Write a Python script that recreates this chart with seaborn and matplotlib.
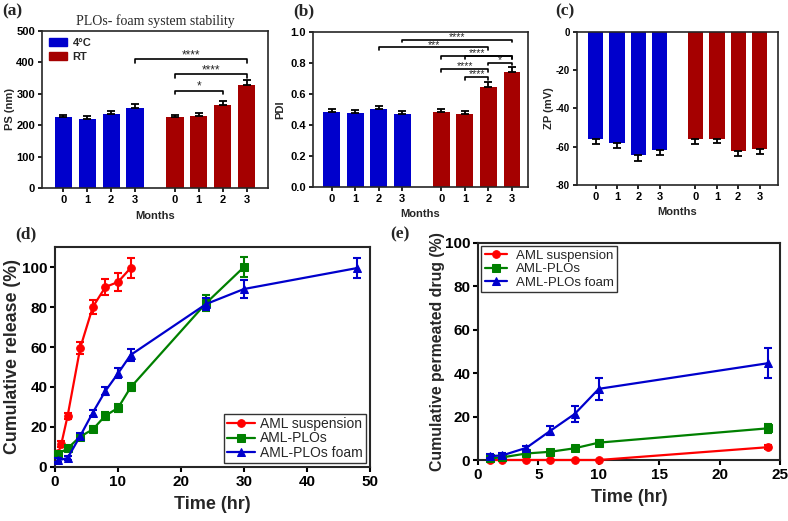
import numpy as np
import pandas as pd
import matplotlib
matplotlib.use('Agg')
import matplotlib.pyplot as plt
import seaborn as sns
from matplotlib.patches import Patch

# stability data (mean, sd) at 0-3 months
months = ['0', '1', '2', '3']
ps_4c = [225, 220, 235, 256]
ps_4c_err = [9, 8, 9, 10]
ps_rt = [225, 230, 264, 328]
ps_rt_err = [9, 9, 12, 15]
pdi_4c = [0.486, 0.475, 0.503, 0.471]
pdi_4c_err = [0.02, 0.02, 0.022, 0.02]
pdi_rt = [0.486, 0.473, 0.648, 0.745]
pdi_rt_err = [0.02, 0.02, 0.028, 0.032]
zp_4c = [-56.2, -58.0, -64.5, -61.7]
zp_4c_err = [2.3, 2.5, 2.8, 2.5]
zp_rt = [-56.2, -55.8, -62.4, -61.0]
zp_rt_err = [2.3, 2.3, 2.6, 2.6]

# significance brackets: (group_a, idx_a, group_b, idx_b, height, label)
ps_sig = [('4c', 3, 'rt', 3, 410, '****'),
          ('rt', 0, 'rt', 3, 363, '****'),
          ('rt', 0, 'rt', 2, 310, '*')]
pdi_sig = [('4c', 3, 'rt', 3, 0.95, '****'),
           ('4c', 2, 'rt', 2, 0.90, '***'),
           ('rt', 0, 'rt', 3, 0.845, '****'),
           ('rt', 1, 'rt', 3, 0.845, ''),
           ('rt', 2, 'rt', 3, 0.803, '*'),
           ('rt', 0, 'rt', 2, 0.76, '****'),
           ('rt', 1, 'rt', 2, 0.708, '****')]

# in vitro release (d)
rel_susp_t = [0.5, 1, 2, 4, 6, 8, 10, 12]
rel_susp = [7, 11.5, 25.5, 59.5, 80, 90, 92.5, 99.5]
rel_susp_err = [1, 1.5, 1.5, 3, 3.5, 4, 4.5, 5]
rel_plo_t = [0.5, 2, 4, 6, 8, 10, 12, 24, 30]
rel_plo = [6.5, 9.3, 15.2, 18.8, 25.7, 29.5, 39.8, 82, 100]
rel_plo_err = [1, 1, 1.5, 1.5, 2, 2, 2, 4, 5]
rel_foam_t = [0.5, 2, 4, 6, 8, 10, 12, 24, 30, 48]
rel_foam = [3.3, 4.5, 15.5, 27.2, 38, 46.8, 56, 81.5, 89, 99.5]
rel_foam_err = [1, 1, 1.5, 1.5, 2, 2.5, 3, 3, 4.5, 5]

# ex vivo permeation (e)
perm_t = [1, 2, 4, 6, 8, 10, 24]
perm_susp = [0, 0, 0, 0, 0, 0, 5.9]
perm_susp_err = [0.2, 0.2, 0.2, 0.2, 0.2, 0.2, 0.8]
perm_plo = [0.8, 1.2, 3.0, 3.8, 5.4, 8.0, 14.6]
perm_plo_err = [0.4, 0.4, 0.6, 0.8, 1.0, 1.2, 2.0]
perm_foam = [1.8, 2.1, 5.6, 13.5, 21.2, 32.8, 44.6]
perm_foam_err = [1, 1, 1, 2.2, 3.5, 5, 7]

series_labels = ['AML suspension', 'AML-PLOs', 'AML-PLOs foam']

BLUE = '#0000cc'
DRED = '#a50000'
sns.set_style('ticks')
plt.rcParams['font.family'] = ['Liberation Sans', 'DejaVu Sans']
plt.rcParams['axes.unicode_minus'] = False
plt.rcParams['axes.linewidth'] = 1.2
plt.rcParams['xtick.major.width'] = 1.2
plt.rcParams['ytick.major.width'] = 1.2
plt.rcParams['xtick.color'] = 'black'
plt.rcParams['ytick.color'] = 'black'

fig = plt.figure(figsize=(7.88, 5.21), dpi=100)
W, H = 788, 521


def add_ax(l, t, r, b):
    return fig.add_axes([l / W, 1 - b / H, (r - l) / W, (b - t) / H])


gap = 1.67
pos_4c = np.arange(4)
pos_rt = np.arange(4) + 3 + gap
pos = {'4c': pos_4c, 'rt': pos_rt}


def bar_panel(ax, v4, e4, vr, er, negative=False):
    df = pd.DataFrame({'pos': np.r_[pos_4c, pos_rt],
                       'val': list(v4) + list(vr),
                       'cond': ['4°C'] * 4 + ['RT'] * 4})
    sns.barplot(data=df, x='pos', y='val', hue='cond', native_scale=True,
                dodge=False, width=0.72, errorbar=None, linewidth=0,
                saturation=1, palette={'4°C': BLUE, 'RT': DRED},
                legend=False, ax=ax)
    for p, v, e in [(pos_4c, v4, e4), (pos_rt, vr, er)]:
        z = np.zeros(4)
        yerr = [np.array(e), z] if negative else [z, np.array(e)]
        ax.errorbar(p, v, yerr=yerr, fmt='none', ecolor='black',
                    elinewidth=1.3, capsize=3, capthick=1.3)
    ax.set_xticks(np.r_[pos_4c, pos_rt])
    ax.set_xticklabels(months * 2)
    ax.set_xlabel('Months', fontsize=8, fontweight='bold')
    ax.xaxis.set_label_coords(0.5, -0.145)
    ax.tick_params(labelsize=8, length=3, pad=2)
    for s in ax.spines.values():
        s.set_visible(True)


def bold_ticks(ax):
    for lab in ax.get_xticklabels() + ax.get_yticklabels():
        lab.set_fontweight('bold')


def brackets(ax, sig, tick, fs=8):
    for ga, ia, gb, ib, y, lab in sig:
        x1, x2 = pos[ga][ia], pos[gb][ib]
        ax.plot([x1, x1, x2, x2], [y - tick, y, y, y - tick], color='black', lw=1.2)
        if lab:
            ax.annotate(lab, xy=((x1 + x2) / 2, y), xytext=(0, -1.5),
                        textcoords='offset points', ha='center', va='bottom',
                        fontsize=fs)


# (a) particle size
ax = add_ax(42, 31, 268, 188)
bar_panel(ax, ps_4c, ps_4c_err, ps_rt, ps_rt_err)
brackets(ax, ps_sig, 12, fs=8.5)
ax.set_xlim(-0.9, pos_rt[-1] + 0.9)
ax.set_ylim(0, 500)
ax.set_yticks(range(0, 501, 100))
bold_ticks(ax)
ax.set_ylabel('PS (nm)', fontsize=8, fontweight='bold')
ax.yaxis.set_label_coords(-0.12, 0.5)
ax.set_title('PLOs- foam system stability', fontsize=10,
             family=['Liberation Serif', 'DejaVu Serif'], pad=4)
ax.legend(handles=[Patch(color=BLUE, label='4°C'), Patch(color=DRED, label='RT')],
          loc='upper left', frameon=False, prop={'weight': 'bold', 'size': 8},
          handlelength=1.6, handleheight=0.7, borderaxespad=0.25,
          labelspacing=0.3, handletextpad=0.5)

# (b) PDI
ax = add_ax(313, 32, 528, 187)
bar_panel(ax, pdi_4c, pdi_4c_err, pdi_rt, pdi_rt_err)
brackets(ax, pdi_sig, 0.017, fs=7.5)
ax.set_xlim(-0.79, pos_rt[-1] + 0.68)
ax.set_ylim(0, 1.0)
ax.set_yticks(np.linspace(0, 1, 6))
ax.set_yticklabels([f'{v:.1f}' for v in np.linspace(0, 1, 6)])
bold_ticks(ax)
ax.set_ylabel('PDI', fontsize=8, fontweight='bold')
ax.yaxis.set_label_coords(-0.13, 0.5)

# (c) zeta potential
ax = add_ax(577, 32, 778, 185)
bar_panel(ax, zp_4c, zp_4c_err, zp_rt, zp_rt_err, negative=True)
ax.set_xlim(-0.87, pos_rt[-1] + 0.86)
ax.set_ylim(-80, 0)
ax.set_yticks(range(-80, 1, 20))
ax.tick_params(axis='y', labelsize=7)
bold_ticks(ax)
ax.set_ylabel('ZP (mV)', fontsize=8, fontweight='bold')
ax.yaxis.set_label_coords(-0.115, 0.5)

line_styles = [('#ff0000', 'o', 5.5), ('#008000', 's', 5.5), (BLUE, '^', 6)]


def line_panel(ax, data):
    for (t, y, e), lab, (c, m, ms) in zip(data, series_labels, line_styles):
        sns.lineplot(x=t, y=y, color=c, marker=m, markersize=ms,
                     markeredgecolor=c, linewidth=1.6, label=lab, ax=ax,
                     clip_on=False, zorder=3)
        ax.errorbar(t, y, yerr=e, fmt='none', ecolor=c, elinewidth=1.5,
                    capsize=3, capthick=1.5, zorder=3, clip_on=False)
    ax.tick_params(labelsize=11, length=3.5, width=1.5, pad=2)
    for s in ax.spines.values():
        s.set_visible(True)
        s.set_linewidth(1.5)


# (d) release
ax = add_ax(55, 247, 370, 467)
line_panel(ax, [(rel_susp_t, rel_susp, rel_susp_err),
                (rel_plo_t, rel_plo, rel_plo_err),
                (rel_foam_t, rel_foam, rel_foam_err)])
ax.set_xlim(0, 50)
ax.set_ylim(0, 110)
ax.set_xticks(range(0, 51, 10))
ax.set_yticks(range(0, 101, 20))
bold_ticks(ax)
ax.set_xlabel('Time (hr)', fontsize=13, fontweight='bold')
ax.xaxis.set_label_coords(0.5, -0.13)
ax.set_ylabel('Cumulative release (%)', fontsize=12.8, fontweight='bold')
ax.yaxis.set_label_coords(-0.108, 0.5)
leg = ax.legend(loc='lower right', fontsize=10, frameon=True, fancybox=False,
                edgecolor='black', handlelength=2.0, handletextpad=0.4,
                borderaxespad=0.3, labelspacing=0.05, borderpad=0.2)
leg.get_frame().set_linewidth(1.0)

# (e) permeation
ax = add_ax(478, 243, 780, 460)
line_panel(ax, [(perm_t, perm_susp, perm_susp_err),
                (perm_t, perm_plo, perm_plo_err),
                (perm_t, perm_foam, perm_foam_err)])
ax.set_xlim(0, 25)
ax.set_ylim(0, 100)
ax.set_xticks(range(0, 26, 5))
ax.set_yticks(range(0, 101, 20))
bold_ticks(ax)
ax.set_xlabel('Time (hr)', fontsize=13, fontweight='bold')
ax.xaxis.set_label_coords(0.5, -0.135)
ax.set_ylabel('Cumulative permeated drug (%)', fontsize=11.4, fontweight='bold')
ax.yaxis.set_label_coords(-0.108, 0.5)
leg = ax.legend(loc='upper left', fontsize=9.5, frameon=True, fancybox=False,
                edgecolor='black', handlelength=1.7, handletextpad=0.7,
                borderaxespad=0.25, labelspacing=0.1, borderpad=0.25)
leg.get_frame().set_linewidth(1.0)

# panel letters
serif = ['Liberation Serif', 'DejaVu Serif']
for x, y, t in [(2, 3, '(a)'), (293, 3, '(b)'), (555, 3, '(c)'),
                (15, 226, '(d)'), (390, 226, '(e)')]:
    fig.text(x / W, 1 - y / H, t, family=serif, fontweight='bold',
             fontsize=12.5, va='top', ha='left')

fig.savefig('out.png', dpi=100)
